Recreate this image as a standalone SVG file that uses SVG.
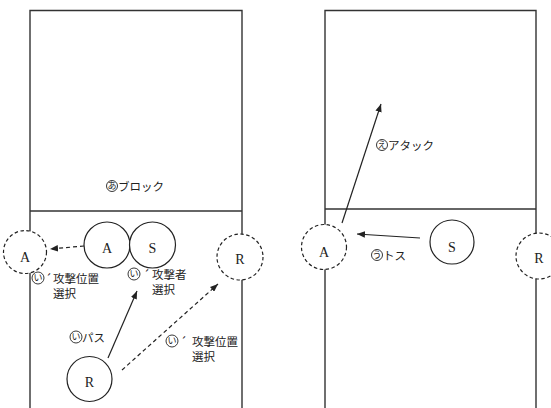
<svg xmlns="http://www.w3.org/2000/svg" width="551" height="408" viewBox="0 0 551 408">
  <style>
    .court { fill: none; stroke: #333; stroke-width: 1.4; }
    .player { fill: #fff; stroke: #222; stroke-width: 1.2; }
    .ghost { fill: #fff; stroke: #222; stroke-width: 1.2; stroke-dasharray: 3.5 2.5; }
    .pos { font-family: "Liberation Serif", serif; font-size: 14px; fill: #222; text-anchor: middle; }
    .lbl { font-family: "Noto Sans CJK JP", sans-serif; font-size: 11.5px; fill: #222; }
    .mk { fill: none; stroke: #222; stroke-width: 0.9; }
    .mkt { font-family: "Noto Sans CJK JP", sans-serif; font-size: 9px; fill: #222; text-anchor: middle; }
    .arrow { fill: none; stroke: #222; stroke-width: 1.2; }
    .dash { stroke-dasharray: 4 3; }
  </style>
  <defs>
    <marker id="head" viewBox="0 0 10 8" refX="10" refY="4" markerWidth="8" markerHeight="6.4" markerUnits="userSpaceOnUse" orient="auto">
      <path d="M0,0 L10,4 L0,8 Z" fill="#222"/>
    </marker>
  </defs>

  <!-- left court: far side box, net, near side lines -->
  <g id="court-left">
    <path class="court" d="M30,408 V10.5 H242 V408"/>
    <line class="court" x1="30" y1="211" x2="242" y2="211"/>
  </g>
  <!-- right court -->
  <g id="court-right">
    <path class="court" d="M325,408 V10.5 H536 V408"/>
    <line class="court" x1="325" y1="209" x2="536" y2="209"/>
  </g>

  <!-- connectors -->
  <g id="connectors">
    <line class="arrow dash" x1="84" y1="246" x2="50" y2="249" marker-end="url(#head)"/>
    <line class="arrow" x1="108" y1="358" x2="137" y2="291" marker-end="url(#head)"/>
    <line class="arrow dash" x1="122" y1="370" x2="218" y2="284" marker-end="url(#head)"/>
    <line class="arrow" x1="342" y1="223" x2="381" y2="104" marker-end="url(#head)"/>
    <line class="arrow" x1="420" y1="238" x2="357" y2="234" marker-end="url(#head)"/>
  </g>

  <!-- left court players -->
  <g id="node-a-moved">
    <circle class="ghost" cx="25" cy="252" r="21.5"/>
    <text class="pos" x="25" y="262">A</text>
  </g>
  <g id="node-a">
    <circle class="player" cx="107" cy="245" r="23"/>
    <text class="pos" x="107" y="253">A</text>
  </g>
  <g id="node-s">
    <circle class="player" cx="152.5" cy="245" r="23"/>
    <text class="pos" x="152.5" y="253">S</text>
  </g>
  <g id="node-r-moved">
    <circle class="ghost" cx="240" cy="257" r="23"/>
    <text class="pos" x="240" y="264">R</text>
  </g>
  <g id="node-r">
    <circle class="player" cx="89.5" cy="379" r="22.5"/>
    <text class="pos" x="89.5" y="387">R</text>
  </g>

  <!-- right court players -->
  <g id="node-a-right">
    <circle class="ghost" cx="324" cy="247" r="22.5"/>
    <text class="pos" x="324" y="257">A</text>
  </g>
  <g id="node-s-right">
    <circle class="player" cx="452" cy="242" r="22"/>
    <text class="pos" x="452" y="252">S</text>
  </g>
  <g id="node-r-right">
    <circle class="ghost" cx="539" cy="256" r="23"/>
    <text class="pos" x="539" y="263">R</text>
  </g>

  <!-- labels -->
  <g id="label-block">
    <circle class="mk" cx="112" cy="186" r="5.5"/>
    <text class="mkt" x="112" y="189">あ</text>
    <text class="lbl" x="118" y="191">ブロック</text>
  </g>
  <g id="label-position-1">
    <circle class="mk" cx="38" cy="278" r="6"/>
    <text class="mkt" x="38" y="281">い</text>
    <text class="lbl"><tspan x="45" y="283">´</tspan><tspan x="53" y="283">攻撃位置</tspan><tspan x="53" y="298">選択</tspan></text>
  </g>
  <g id="label-attacker">
    <circle class="mk" cx="134" cy="274" r="6"/>
    <text class="mkt" x="134" y="277">い</text>
    <text class="lbl"><tspan x="143" y="279">´</tspan><tspan x="152" y="279">攻撃者</tspan><tspan x="152" y="294">選択</tspan></text>
  </g>
  <g id="label-pass">
    <circle class="mk" cx="76" cy="337" r="6"/>
    <text class="mkt" x="76" y="340">い</text>
    <text class="lbl" x="82" y="342">パス</text>
  </g>
  <g id="label-position-2">
    <circle class="mk" cx="172" cy="341" r="6"/>
    <text class="mkt" x="172" y="344">い</text>
    <text class="lbl"><tspan x="180" y="346">´</tspan><tspan x="192" y="346">攻撃位置</tspan><tspan x="192" y="361">選択</tspan></text>
  </g>
  <g id="label-attack">
    <circle class="mk" cx="382" cy="145" r="5.5"/>
    <text class="mkt" x="382" y="148">え</text>
    <text class="lbl" x="388" y="150">アタック</text>
  </g>
  <g id="label-toss">
    <circle class="mk" cx="377" cy="255" r="5.5"/>
    <text class="mkt" x="377" y="258">う</text>
    <text class="lbl" x="383" y="260">トス</text>
  </g>
</svg>
